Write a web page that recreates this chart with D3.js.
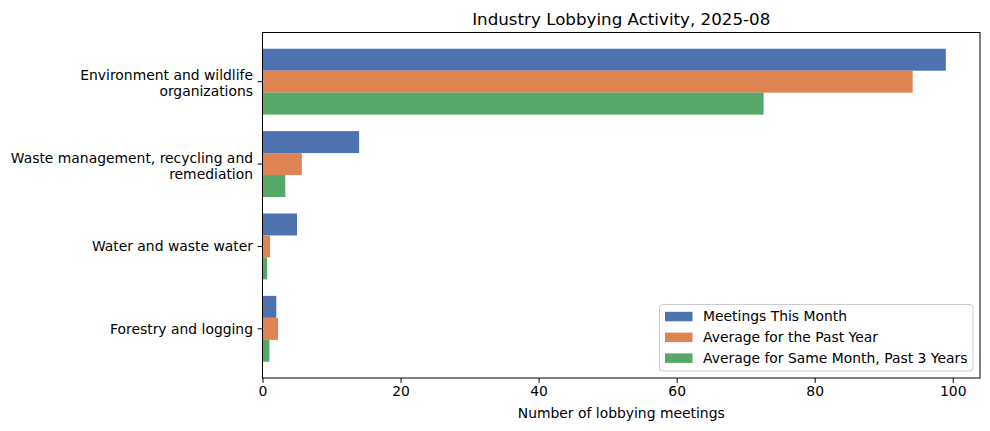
<!DOCTYPE html>
<html>
<head>
<meta charset="utf-8">
<script src="https://cdn.jsdelivr.net/npm/d3@7"></script>
<style>
  body { margin: 0; background: #fff; }
  svg { font-family: "DejaVu Sans", sans-serif; }
</style>
</head>
<body>
<svg id="chart" width="990" height="431"></svg>
<script>
// ---- data ----
const categories = [
  ["Environment and wildlife", "organizations"],
  ["Waste management, recycling and", "remediation"],
  ["Water and waste water"],
  ["Forestry and logging"]
];
const seriesNames = ["Meetings This Month", "Average for the Past Year", "Average for Same Month, Past 3 Years"];
const meetingsThisMonth = [99, 14, 5, 2];
const avgPastYear = [94.2, 5.7, 1.1, 2.25];
const avgSameMonth3Yrs = [72.6, 3.3, 0.67, 1.0];
const xTicks = [0, 20, 40, 60, 80, 100];
const colors = ["#4C72B0", "#DD8452", "#55A868"];
const chartTitle = "Industry Lobbying Activity, 2025-08";
const xLabel = "Number of lobbying meetings";

const seriesValues = [meetingsThisMonth, avgPastYear, avgSameMonth3Yrs];
const catKeys = categories.map(c => c.join(" "));

// ---- layout ----
const svg = d3.select("#chart");
const pLeft = 262.5, pRight = 980, pTop = 32.5, pBottom = 378;
const xMax = d3.max(meetingsThisMonth) * 1.05;

const x = d3.scaleLinear().domain([0, xMax]).range([pLeft, pRight]);
const y = d3.scaleBand().domain(catKeys).range([pTop, pBottom])
  .paddingInner(0.2).paddingOuter(0.197);
const ySub = d3.scaleBand().domain(d3.range(seriesNames.length))
  .range([0, y.bandwidth()]).padding(0);

// bars
seriesValues.forEach((vals, si) => {
  svg.append("g").selectAll("rect")
    .data(vals)
    .join("rect")
    .attr("x", x(0))
    .attr("y", (d, i) => y(catKeys[i]) + ySub(si))
    .attr("width", d => x(d) - x(0))
    .attr("height", ySub.bandwidth())
    .attr("fill", colors[si]);
});

// frame
svg.append("rect")
  .attr("x", pLeft).attr("y", pTop)
  .attr("width", pRight - pLeft).attr("height", pBottom - pTop)
  .attr("fill", "none").attr("stroke", "#000").attr("stroke-width", 1);

// x axis
const xAxis = svg.append("g")
  .attr("transform", `translate(0,${pBottom})`)
  .call(d3.axisBottom(x).tickValues(xTicks).tickSize(4.9).tickPadding(3.5));
xAxis.select(".domain").remove();
xAxis.selectAll("text").attr("font-size", 13.9).attr("font-family", "DejaVu Sans").attr("fill", "#000");
xAxis.selectAll("line").attr("stroke", "#000");

// y axis ticks
const yAxis = svg.append("g")
  .attr("transform", `translate(${pLeft},0)`)
  .call(d3.axisLeft(y).tickSize(4.9).tickFormat(""));
yAxis.select(".domain").remove();
yAxis.selectAll("line").attr("stroke", "#000");

// y tick labels (multi-line)
const yl = svg.append("g");
categories.forEach((lines, i) => {
  const cy = y(catKeys[i]) + y.bandwidth() / 2;
  const t = yl.append("text")
    .attr("x", 253)
    .attr("text-anchor", "end")
    .attr("font-size", 13.9)
    .attr("fill", "#000");
  if (lines.length === 1) {
    t.append("tspan").attr("x", 253).attr("y", cy + 5).text(lines[0]);
  } else {
    t.append("tspan").attr("x", 253).attr("y", cy - 1.5).text(lines[0]);
    t.append("tspan").attr("x", 253).attr("y", cy + 14.5).text(lines[1]);
  }
});

// x label
svg.append("text")
  .attr("x", (pLeft + pRight) / 2).attr("y", 418)
  .attr("text-anchor", "middle").attr("font-size", 13.9)
  .text(xLabel);

// title
svg.append("text")
  .attr("x", (pLeft + pRight) / 2).attr("y", 25)
  .attr("text-anchor", "middle").attr("font-size", 16.7)
  .text(chartTitle);

// legend
const lg = svg.append("g");
lg.append("rect")
  .attr("x", 659.5).attr("y", 304.5).attr("width", 313.5).attr("height", 66.5)
  .attr("rx", 3).attr("fill", "#fff").attr("fill-opacity", 0.8)
  .attr("stroke", "#cccccc").attr("stroke-width", 1);
seriesNames.forEach((name, i) => {
  const cy = 316 + i * 20.8;
  lg.append("rect")
    .attr("x", 665).attr("y", cy - 4.2).attr("width", 27.5).attr("height", 9.5)
    .attr("fill", colors[i]);
  lg.append("text")
    .attr("x", 703).attr("y", cy + 5)
    .attr("font-size", 13.9).text(name);
});
</script>
</body>
</html>
